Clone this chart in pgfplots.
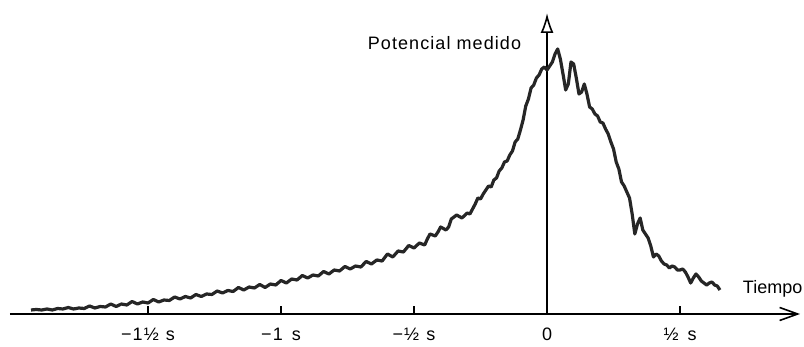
\documentclass[border=0pt]{standalone}
\usepackage{fontspec}
\setmainfont{Liberation Sans}
\usepackage{pgfplots}
\pgfplotsset{compat=1.18}
\usetikzlibrary{arrows.meta}
\newcommand{\lbl}{\fontsize{9}{11}\selectfont\addfontfeatures{LetterSpace=6}}
\begin{document}
\begin{tikzpicture}
\useasboundingbox (0,0) rectangle (402pt,173.5pt);
\begin{axis}[
  at={(5pt,16.5pt)}, anchor=south west,
  scale only axis, width=395pt, height=150.5pt,
  xmin=-2.019, xmax=0.951, ymin=0, ymax=301,
  axis lines=middle,
  axis line style={line width=0.9pt},
  x axis line style={-{Straight Barb[length=9pt,width=6.5pt,line width=0.8pt]}},
  y axis line style={-{Latex[open,length=10pt,width=6.5pt,line width=0.8pt]}},
  xtick={-1.5,-1,-0.5,0,0.5},
  xticklabels={−1½\hspace{0.4em}s, −1\hspace{0.5em}s, −½\hspace{0.4em}s, 0, ½\hspace{0.5em}s},
  ytick=\empty,
  hide obscured x ticks=false,
  tick align=inside,
  major tick length=4pt,
  tick style={line width=0.8pt, black},
  xticklabel style={font=\lbl, anchor=north, yshift=-3.5pt},
  clip=false,
]
\addplot[black!85, line width=1.6pt, line join=round] table {
x y
-1.94 4
-1.92 4.5
-1.90 4
-1.88 5
-1.86 4
-1.84 5.5
-1.82 5
-1.80 6.5
-1.78 5
-1.76 6
-1.74 5.5
-1.72 8
-1.70 6
-1.68 7.5
-1.66 7
-1.64 10
-1.62 7.5
-1.60 10
-1.58 9
-1.56 12.5
-1.54 10
-1.52 12
-1.50 11
-1.48 14.5
-1.46 12
-1.44 14
-1.42 13.5
-1.40 17
-1.38 15
-1.36 17.5
-1.34 16
-1.32 19.5
-1.30 17.5
-1.28 20
-1.26 19.5
-1.24 23
-1.22 21
-1.20 23.5
-1.18 22.5
-1.16 26.5
-1.14 24
-1.12 27
-1.10 26
-1.08 29.5
-1.06 26.5
-1.04 30
-1.02 29
-1.00 33.5
-0.98 31
-0.96 35
-0.94 34
-0.92 38.5
-0.90 36
-0.88 39
-0.86 38
-0.84 42.5
-0.82 40
-0.80 44
-0.78 43
-0.76 47.5
-0.74 45
-0.72 48
-0.70 47
-0.68 52.5
-0.66 50
-0.64 54
-0.62 53
-0.60 60
-0.58 57
-0.56 63
-0.54 62
-0.52 68.5
-0.50 66
-0.48 71
-0.46 69
-0.45 75
-0.44 80
-0.42 78
-0.41 82
-0.40 87
-0.38 84
-0.37 87
-0.36 95
-0.34 99
-0.32 96
-0.30 101
-0.29 100
-0.28 105
-0.27 110
-0.26 116
-0.25 115
-0.24 120
-0.22 128
-0.21 127
-0.20 134
-0.19 136
-0.18 143
-0.17 146
-0.16 152
-0.15 153
-0.14 159
-0.13 163
-0.12 172
-0.11 175
-0.10 184
-0.09 194
-0.08 208
-0.07 215
-0.06 226
-0.05 229
-0.04 236
-0.03 239
-0.02 245
-0.01 247
0.00 244
0.01 248
0.02 252
0.03 260
0.04 265
0.05 255
0.06 240
0.07 224
0.08 230
0.09 252
0.10 250
0.11 236
0.12 220
0.13 222
0.14 230
0.15 220
0.16 207
0.17 205
0.18 200
0.19 198
0.20 192
0.21 191
0.22 185
0.23 180
0.24 172
0.25 165
0.26 152
0.27 145
0.28 132
0.29 128
0.30 122
0.31 116
0.32 100
0.33 80
0.34 90
0.35 96
0.36 84
0.37 80
0.38 76
0.39 68
0.40 57
0.41 60
0.42 58
0.43 53
0.44 50
0.45 49
0.46 46
0.47 48
0.48 47
0.49 44
0.50 44
0.51 45
0.52 42
0.53 37
0.54 31
0.55 36
0.56 40
0.57 37
0.58 33
0.59 31
0.60 29
0.61 31
0.62 32
0.63 29
0.64 28
0.65 24
};
\node[font=\lbl, anchor=east] at (axis cs:-0.071,271) {Potencial medido};
\node[font=\fontsize{9}{11}\selectfont] at (axis cs:0.848,25) {Tiempo};
\end{axis}
\end{tikzpicture}
\end{document}
